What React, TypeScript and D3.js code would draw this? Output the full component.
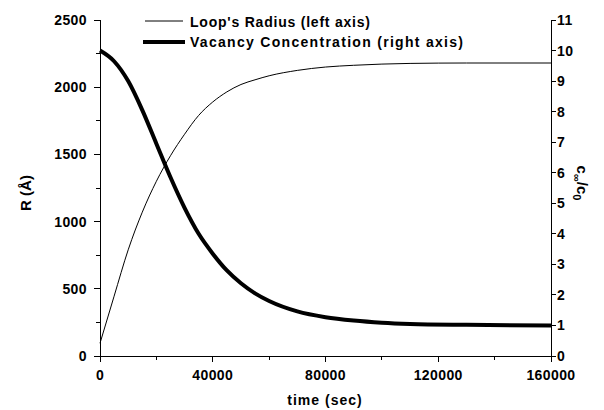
import * as d3 from "d3";

const TIME_R = [0, 5000, 10000, 15000, 20000, 25000, 30000, 35000, 40000, 45000, 50000, 55000, 60000, 70000, 80000, 90000, 100000, 110000, 130000, 160000];
const RADIUS = [95, 445, 790, 1070, 1300, 1490, 1650, 1790, 1890, 1965, 2020, 2055, 2085, 2125, 2150, 2163, 2172, 2177, 2180, 2180];

const TIME_C = [0, 5000, 10000, 15000, 20000, 25000, 30000, 35000, 40000, 45000, 50000, 55000, 60000, 70000, 80000, 90000, 100000, 110000, 130000, 160000];
const CONC = [10, 9.65, 9.0, 8.05, 6.95, 5.85, 4.85, 4.0, 3.35, 2.8, 2.38, 2.05, 1.8, 1.46, 1.27, 1.16, 1.09, 1.05, 1.02, 1.0];

const X_TICKS = [0, 40000, 80000, 120000, 160000];
const X_MINOR = d3.range(0, 160001, 20000);
const LEFT_TICKS = [0, 500, 1000, 1500, 2000, 2500];
const LEFT_MINOR = d3.range(0, 2501, 250);
const RIGHT_TICKS = d3.range(0, 12);

const LEGEND = ["Loop's Radius (left axis)", "Vacancy Concentration (right axis)"];

const W = 604;
const H = 410;
const FONT = "Arial, 'Liberation Sans', sans-serif";

export default function App() {
  const x = d3.scaleLinear().domain([0, 160000]).range([100, 551]);
  const yL = d3.scaleLinear().domain([0, 2500]).range([356, 20]);
  const yR = d3.scaleLinear().domain([0, 11]).range([356, 20]);

  const lineR = d3
    .line<number>()
    .x((_, i) => x(TIME_R[i]))
    .y((d) => yL(d))
    .curve(d3.curveMonotoneX);
  const lineC = d3
    .line<number>()
    .x((_, i) => x(TIME_C[i]))
    .y((d) => yR(d))
    .curve(d3.curveMonotoneX);

  const [x0, x1] = x.range();
  const [yb, yt] = yL.range();

  return (
    <svg
      width={W}
      height={H}
      style={{ position: "absolute", left: 0, top: 0, background: "#fff" }}
      fontFamily={FONT}
      fontWeight="bold"
    >
      {/* axes */}
      <g stroke="#000" strokeWidth={1} shapeRendering="crispEdges">
        <line x1={x0} x2={x0} y1={yb} y2={yt} />
        <line x1={x1} x2={x1} y1={yb} y2={yt} />
        <line x1={x0} x2={x1} y1={yb} y2={yb} />
        {X_MINOR.map((t) => (
          <line key={"xm" + t} x1={x(t)} x2={x(t)} y1={yb} y2={yb + (X_TICKS.includes(t) ? 6 : 4)} />
        ))}
        {LEFT_MINOR.map((v) => (
          <line key={"lm" + v} x1={x0} x2={x0 - (LEFT_TICKS.includes(v) ? 6 : 4)} y1={yL(v)} y2={yL(v)} />
        ))}
        {RIGHT_TICKS.map((v) => (
          <line key={"rt" + v} x1={x1} x2={x1 + 5} y1={yR(v)} y2={yR(v)} />
        ))}
      </g>

      {/* tick labels */}
      <g fontSize={14} fill="#000">
        {X_TICKS.map((t) => (
          <text key={"xl" + t} x={x(t)} y={380} textAnchor="middle" letterSpacing={0.4}>
            {t}
          </text>
        ))}
        {LEFT_TICKS.map((v) => (
          <text key={"ll" + v} x={x0 - 13} y={yL(v)} dy="0.36em" textAnchor="end" letterSpacing={0.4}>
            {v}
          </text>
        ))}
        {RIGHT_TICKS.map((v) => (
          <text key={"rl" + v} x={x1 + 6} y={yR(v)} dy="0.36em" textAnchor="start" letterSpacing={0.4}>
            {v}
          </text>
        ))}
      </g>

      {/* axis titles */}
      <text x={325} y={405} textAnchor="middle" fontSize={14} letterSpacing={1}>
        time (sec)
      </text>
      <text transform="translate(31,193) rotate(-90)" textAnchor="middle" fontSize={15}>
        R (Å)
      </text>
      <text transform="translate(577,183) rotate(90)" textAnchor="middle" fontSize={15}>
        c<tspan fontSize={11} dy={4}>∞</tspan>
        <tspan dy={-4}>/c</tspan>
        <tspan fontSize={11} dy={4}>0</tspan>
      </text>

      {/* series */}
      <path d={lineR(RADIUS) ?? ""} fill="none" stroke="#000" strokeWidth={1} />
      <path d={lineC(CONC) ?? ""} fill="none" stroke="#000" strokeWidth={4} />

      {/* legend */}
      <line x1={145} x2={183} y1={21} y2={21} stroke="#000" strokeWidth={1} />
      <line x1={143} x2={185} y1={42} y2={42} stroke="#000" strokeWidth={4} />
      <text x={190} y={26.5} fontSize={14} textLength={180} lengthAdjust="spacing">
        {LEGEND[0]}
      </text>
      <text x={190} y={46.5} fontSize={14} textLength={273} lengthAdjust="spacing">
        {LEGEND[1]}
      </text>
    </svg>
  );
}
